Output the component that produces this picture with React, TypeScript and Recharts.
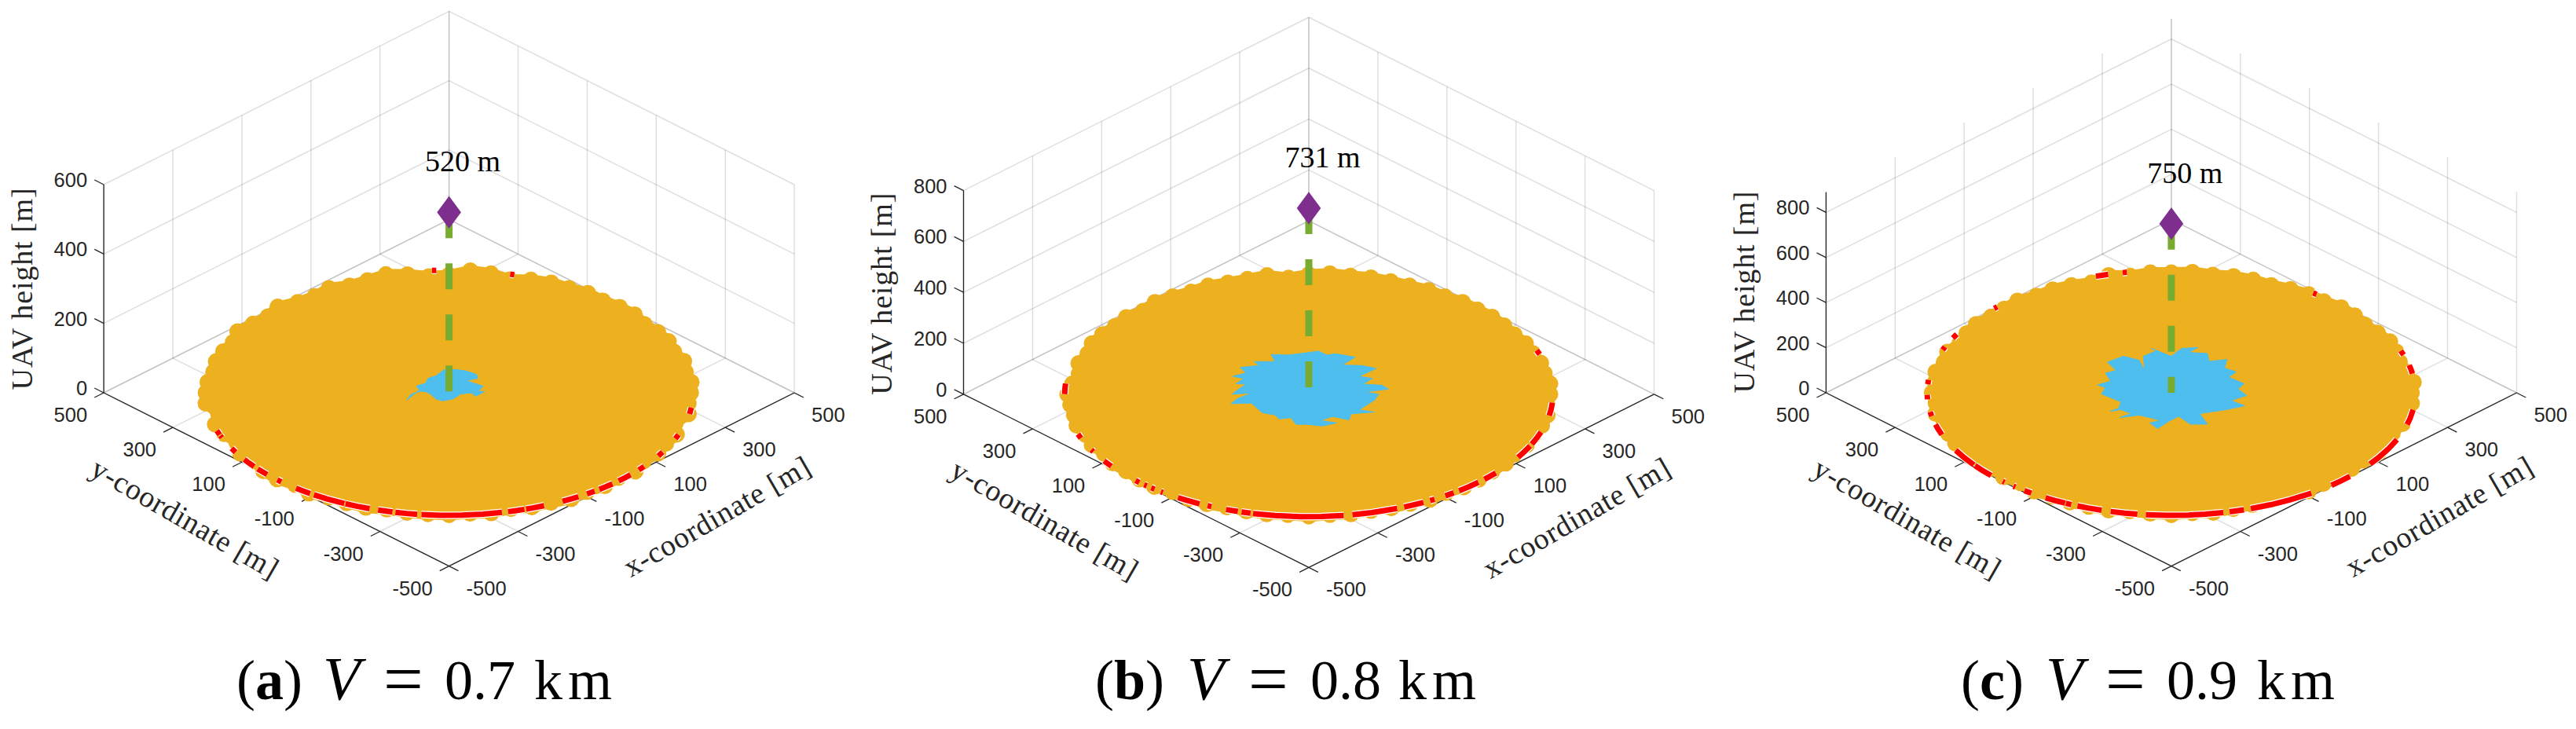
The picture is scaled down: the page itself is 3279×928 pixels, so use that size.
import React from 'react';
import { ScatterChart, Scatter, XAxis, YAxis } from 'recharts';

const ORANGE = '#EDB120';
const BLUE = '#4DBEEE';
const RED = '#FF0000';
const GREEN = '#77AC30';
const PURPLE = '#7E2F8E';
const INK = '#262626';

const groundTicks = [-500, -300, -100, 100, 300, 500];

// bearing of the outer users on the disc, degrees counted from screen right
const discAngles = [0, 5, 10, 15, 20, 25, 30, 35, 40, 45, 50, 55, 60, 65, 70, 75, 80, 85, 90, 95, 100, 105, 110, 115, 120, 125, 130, 135, 140, 145, 150, 155, 160, 165, 170, 175, 180, 185, 190, 195, 200, 205, 210, 215, 220, 225, 230, 235, 240, 245, 250, 255, 260, 265, 270, 275, 280, 285, 290, 295, 300, 305, 310, 315, 320, 325, 330, 335, 340, 345, 350, 355];

const discRadiusA = [495, 498, 492, 498, 490, 496, 494, 488, 496, 494, 490, 496, 492, 495, 490, 478, 494, 500, 480, 476, 490, 500, 488, 482, 492, 480, 482, 496, 484, 490, 500, 488, 492, 494, 490, 496, 498, 500, 480, 496, 490, 480, 494, 486, 496, 498, 490, 500, 492, 496, 498, 492, 496, 496, 498, 494, 498, 490, 496, 494, 500, 492, 496, 490, 498, 486, 494, 490, 496, 480, 498, 492];
const discRadiusB = [494, 496, 490, 492, 488, 490, 486, 488, 490, 488, 490, 486, 490, 488, 490, 492, 490, 494, 488, 476, 492, 486, 484, 488, 482, 486, 490, 480, 488, 484, 488, 490, 482, 488, 478, 486, 494, 490, 488, 492, 486, 490, 484, 490, 488, 490, 492, 486, 492, 494, 490, 494, 496, 494, 498, 494, 496, 492, 494, 492, 496, 490, 494, 492, 490, 492, 488, 492, 490, 494, 496, 490];
const discRadiusC = [492, 498, 490, 484, 490, 494, 488, 484, 490, 492, 486, 490, 488, 484, 490, 492, 488, 494, 490, 492, 484, 496, 478, 484, 486, 482, 490, 484, 482, 488, 484, 478, 488, 482, 490, 486, 490, 484, 490, 482, 486, 488, 484, 478, 480, 486, 480, 490, 488, 492, 494, 496, 490, 494, 498, 492, 496, 490, 486, 482, 478, 490, 484, 478, 482, 480, 490, 486, 482, 490, 488, 494];

// stretches of the red ring that stay visible, as bearing stops
const redArcsA = [[93, 94], [74.5, 75.5], [198, 200], [200.5, 201.5], [207, 209], [213, 215, 217], [218.4, 220, 221.8], [225.3, 226.6], [231.2, 233, 235.3], [236.4, 240, 244.6], [244.9, 248, 251], [253.1, 256.6], [257.3, 260, 262.5], [263.5, 268, 273, 278, 282.5], [284, 286, 288], [288.4, 290, 292.9], [297.7, 300, 302], [304.4, 306.6], [308, 310, 312], [314, 316, 318], [321, 323], [329, 331], [338, 340], [350, 353]];
const redArcsB = [[175, 177, 180], [199, 201], [207, 208], [213, 216], [224.8, 226], [227.6, 228.4], [229.8, 230.8], [232.7, 233.3], [237.6, 240, 243.4], [245.5, 246.5], [250.2, 253.1], [254, 256.2], [256.8, 262, 268, 273, 278.2], [280.3, 285, 291.2], [293, 295, 298], [299.8, 301], [304, 306.4], [308, 311, 314], [316, 320], [329, 332, 335], [336, 339, 342], [350, 353, 356], [19, 21]];
const redArcsC = [[105, 106.5, 108], [100.5, 101.5], [53.5, 54.5], [135.5, 136.5], [151.5, 153.5], [158, 159.5], [174, 176], [181, 183], [189, 191], [195, 197, 200], [208, 212, 216], [216.5, 219, 222.4], [226.3, 226.9], [229.7, 230.3], [233, 235], [239, 242, 244.2], [244.4, 245.8], [247.4, 250, 253.4], [255.6, 259, 262], [264, 269, 274, 278, 282.3], [283.8, 287.3], [289, 294, 299, 305], [311, 314, 317], [324.5, 328, 333, 337.5], [345, 348, 352], [9, 11, 13], [18, 20]];

// outline of the users served by the blue class, [across, along] metres on the ground
const blueOutlineA = [[-87, -29], [-78, -7], [-59, 7], [-67, 27], [-48, 39], [-43, 59], [-27, 69], [-11, 93], [13, 95], [35, 89], [56, 75], [59, 59], [35, 50], [51, 39], [70, 27], [59, 5], [73, 5], [54, -14], [46, 0], [24, -5], [8, -25], [-13, -33], [-27, -25], [-38, -5], [-48, 5], [-64, 7], [-78, -16]];
const blueOutlineB = [[-159, -39], [-147, -19], [-117, 5], [-157, 0], [-147, 16], [-128, 41], [-149, 43], [-133, 64], [-156, 73], [-128, 87], [-141, 109], [-101, 117], [-112, 133], [-69, 133], [-77, 162], [-42, 160], [-4, 169], [20, 176], [36, 160], [55, 165], [95, 151], [68, 119], [108, 117], [138, 105], [103, 73], [130, 64], [111, 41], [149, 37], [163, 21], [114, 9], [143, 0], [135, -23], [103, -64], [134, -73], [87, -80], [82, -105], [49, -91], [23, -107], [57, -117], [28, -130], [-4, -123], [-26, -123], [-37, -96], [-61, -101], [-69, -85], [-96, -75], [-117, -37], [-139, -37]];
const blueOutlineC = [[-151, 32], [-124, 48], [-135, 80], [-113, 91], [-131, 125], [-98, 149], [-66, 133], [-55, 91], [-57, 149], [-31, 171], [-41, 181], [0, 149], [21, 181], [55, 185], [35, 165], [74, 160], [77, 128], [114, 136], [109, 101], [133, 85], [117, 64], [149, 37], [136, 16], [154, -11], [122, -32], [150, -53], [112, -69], [58, -85], [74, -128], [39, -128], [15, -96], [-6, -117], [-28, -146], [-44, -123], [-22, -112], [-66, -91], [-106, -101], [-82, -85], [-103, -69], [-125, -75], [-108, -64], [-103, -37], [-143, -5], [-135, 21]];

const PANEL_W = 1093;
const PANEL_H = 928;
const SCALE = 0.4395; // px per metre on the x-y diagonal
const TILT = 0.502;

const panels = [
  { left: 0, cx: 571.6, y0: 500, zPx: 0.4417, zMax: 600, zTicks: [0, 200, 400, 600], height: 520, titleZ: 299, radii: discRadiusA, red: redArcsA, blue: blueOutlineA },
  { left: 1093, cx: 573, y0: 501.8, zPx: 0.324, zMax: 800, zTicks: [0, 200, 400, 600, 800], height: 731, titleZ: 394, radii: discRadiusB, red: redArcsB, blue: blueOutlineB },
  { left: 2186, cx: 577.9, y0: 500, zPx: 0.287, zMax: 890, zTicks: [0, 200, 400, 600, 800], height: 750, titleZ: 446, radii: discRadiusC, red: redArcsC, blue: blueOutlineC },
];

const captions = [
  { tag: 'a', value: '0.7', x: [301, 411, 488, 566, 680] },
  { tag: 'b', value: '0.8', x: [1394, 1511, 1589, 1668, 1780] },
  { tag: 'c', value: '0.9', x: [2496, 2604, 2680, 2758, 2873] },
];

const noMark = () => null;

const Panel = ({ p }: { p: (typeof panels)[number] }) => {
  const zk = p.zPx / SCALE;
  const at = (x: number, y: number, z = 0, extra = {}) => ({ sx: x - y, sy: (x + y) * TILT + z * zk, ...extra });
  const onGround = (u: number, v: number) => ({ sx: u * Math.SQRT2, sy: v * Math.SQRT2 * TILT });
  const polar = (deg: number, r: number) => onGround(r * Math.cos((deg * Math.PI) / 180), r * Math.sin((deg * Math.PI) / 180));

  const segs: { pts: any[]; stroke: string; width: number; opacity: number }[] = [];
  const grid = (a: any, b: any) => segs.push({ pts: [a, b], stroke: INK, width: 1.5, opacity: 0.15 });
  const axis = (a: any, b: any) => segs.push({ pts: [a, b], stroke: INK, width: 1.3, opacity: 1 });

  groundTicks.forEach(t => {
    grid(at(t, -500), at(t, 500));
    grid(at(-500, t), at(500, t));
    grid(at(t, 500), at(t, 500, p.zMax));
    grid(at(500, t), at(500, t, p.zMax));
  });
  p.zTicks.forEach(t => {
    grid(at(-500, 500, t), at(500, 500, t));
    grid(at(500, 500, t), at(500, -500, t));
  });
  axis(at(-500, 500), at(-500, 500, p.zMax));
  axis(at(-500, 500), at(-500, -500));
  axis(at(-500, -500), at(500, -500));
  groundTicks.forEach(t => {
    axis(at(-500, t), at(-527, t));
    axis(at(t, -500), at(t, -527));
  });
  p.zTicks.forEach(t => axis(at(-500, 500, t), at(-500, 527, t)));

  const disc = discAngles.map((a, i) => polar(a, p.radii[i]));
  const blue = p.blue.map(([u, v]) => onGround(u, v));
  const stem = [at(0, 0, p.height), at(0, 0, 0)];

  const tickText = (anchor: string, dx: number, dy: number) => (s: any) => (
    <text x={s.cx + dx} y={s.cy + dy} textAnchor={anchor} fontFamily="Liberation Sans" fontSize={25.5} fill={INK}>
      {s.payload.label}
    </text>
  );
  const titleText = (angle: number, len: number) => (s: any) => (
    <text
      x={s.cx}
      y={s.cy}
      transform={`rotate(${angle} ${s.cx} ${s.cy})`}
      textAnchor="middle"
      dominantBaseline="middle"
      fontFamily="Liberation Serif"
      fontSize={38}
      textLength={len}
      lengthAdjust="spacing"
      fill={INK}
    >
      {s.payload.label}
    </text>
  );

  return (
    <div style={{ position: 'absolute', left: p.left, top: 0 }}>
      <ScatterChart width={PANEL_W} height={PANEL_H} margin={{ top: 0, right: 0, bottom: 0, left: 0 }}>
        <XAxis type="number" dataKey="sx" hide domain={[-p.cx / SCALE, (PANEL_W - p.cx) / SCALE]} allowDataOverflow />
        <YAxis type="number" dataKey="sy" hide domain={[(p.y0 - PANEL_H) / SCALE, p.y0 / SCALE]} allowDataOverflow />
        {segs.map((s, i) => (
          <Scatter key={`seg-${i}`} data={s.pts} shape={noMark} line={{ stroke: s.stroke, strokeWidth: s.width, strokeOpacity: s.opacity }} isAnimationActive={false} />
        ))}
        <Scatter data={[...disc, disc[0]]} line={{ fill: ORANGE, stroke: ORANGE, strokeWidth: 14, strokeLinejoin: 'round' }} shape={noMark} isAnimationActive={false} />
        <Scatter data={disc} shape={(s: any) => <circle cx={s.cx} cy={s.cy} r={10.5} fill={ORANGE} />} isAnimationActive={false} />
        {p.red.map((arc, i) => (
          <Scatter key={`casing-${i}`} data={arc.map(a => polar(a, 500))} shape={noMark} line={{ stroke: '#FFFFFF', strokeWidth: 9.5 }} isAnimationActive={false} />
        ))}
        {p.red.map((arc, i) => (
          <Scatter key={`red-${i}`} data={arc.map(a => polar(a, 500))} shape={noMark} line={{ stroke: RED, strokeWidth: 7 }} isAnimationActive={false} />
        ))}
        <Scatter data={[...blue, blue[0]]} line={{ fill: BLUE, stroke: BLUE, strokeWidth: 1 }} shape={noMark} isAnimationActive={false} />
        <Scatter data={stem} shape={noMark} line={{ stroke: GREEN, strokeWidth: 9, strokeDasharray: '33 32' }} isAnimationActive={false} />
        <Scatter
          data={[at(0, 0, p.height, { label: `${p.height} m` })]}
          isAnimationActive={false}
          shape={(s: any) => (
            <g>
              <polygon points={`${s.cx},${s.cy - 20.7} ${s.cx + 15.3},${s.cy} ${s.cx},${s.cy + 20.7} ${s.cx - 15.3},${s.cy}`} fill={PURPLE} />
              <text x={s.cx + 17.5} y={s.cy - 52} textAnchor="middle" fontFamily="Liberation Serif" fontSize={38} fill="#000">
                {s.payload.label}
              </text>
            </g>
          )}
        />
        <Scatter data={groundTicks.map(t => at(-500, t, 0, { label: `${t}` }))} shape={tickText('end', -21, 37)} isAnimationActive={false} />
        <Scatter data={groundTicks.map(t => at(t, -500, 0, { label: `${t}` }))} shape={tickText('start', 22, 37)} isAnimationActive={false} />
        <Scatter data={p.zTicks.map(t => at(-500, 500, t, { label: `${t}` }))} shape={tickText('end', -21, 3)} isAnimationActive={false} />
        <Scatter data={[at(25, -755, 0, { label: 'x-coordinate [m]' })]} shape={titleText(-30, 268)} isAnimationActive={false} />
        <Scatter data={[at(-755, 15, 0, { label: 'y-coordinate [m]' })]} shape={titleText(30, 268)} isAnimationActive={false} />
        <Scatter
          data={[at(-500, 500, p.titleZ, { label: 'UAV height [m]' })]}
          shape={(s: any) => titleText(-90, 257)({ ...s, cx: s.cx - 100 })}
          isAnimationActive={false}
        />
      </ScatterChart>
    </div>
  );
};

export default function App() {
  return (
    <div style={{ position: 'fixed', left: 0, top: 0, width: 3279, height: 928, background: '#fff', overflow: 'hidden' }}>
      {panels.map(p => (
        <Panel key={p.left} p={p} />
      ))}
      <svg width={3279} height={928} style={{ position: 'absolute', left: 0, top: 0, pointerEvents: 'none' }}>
        {captions.map(c => (
          <g key={c.tag} fontFamily="Liberation Serif" fontSize={72} fill="#000">
            <text x={c.x[0]} y={890}>
              (<tspan fontWeight="bold">{c.tag}</tspan>)
            </text>
            <text x={c.x[1]} y={890} fontStyle="italic" fontSize={78}>V</text>
            <text x={c.x[2]} y={895} fontSize={90}>=</text>
            <text x={c.x[3]} y={890}>{c.value}</text>
            <text x={c.x[4]} y={890} letterSpacing={7}>km</text>
          </g>
        ))}
      </svg>
    </div>
  );
}
